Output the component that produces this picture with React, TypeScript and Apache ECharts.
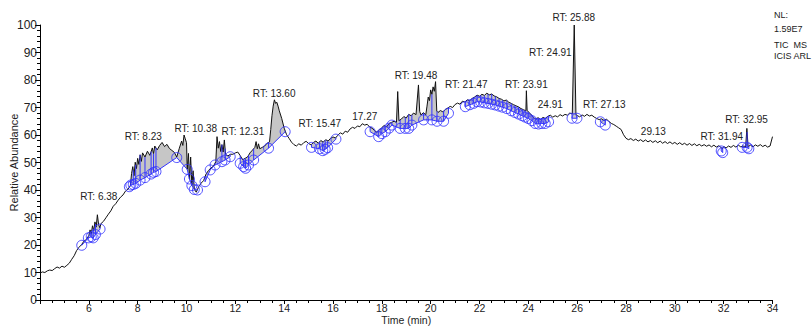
import React, { useEffect, useRef } from 'react';
import * as echarts from 'echarts';

const FONT = '"Liberation Sans", Arial, sans-serif';

// Total ion chromatogram: [time (min), relative abundance]
const TRACE: [number, number][] = [
  [4.0, 9.8], [4.1, 10.2], [4.2, 10.0], [4.3, 10.6], [4.4, 10.9], [4.5, 10.7], [4.6, 11.4], [4.7, 12.0], [4.8, 11.6], [4.9, 12.3],
  [5.0, 11.9], [5.1, 12.6], [5.2, 13.4], [5.3, 14.8], [5.4, 16.1], [5.5, 18.0], [5.6, 19.2], [5.7, 20.1], [5.8, 21.4], [5.9, 22.0],
  [6.0, 23.4], [6.05, 25.5], [6.1, 24.1], [6.15, 27.0], [6.2, 25.2], [6.25, 28.4], [6.3, 26.5], [6.35, 31.0], [6.4, 27.5], [6.45, 26.2],
  [6.5, 27.8], [6.6, 28.6], [6.7, 29.9], [6.8, 31.2], [6.9, 32.4], [7.0, 34.1], [7.1, 35.0], [7.2, 36.3], [7.3, 37.4], [7.4, 38.2],
  [7.5, 39.6], [7.6, 40.3], [7.7, 41.5], [7.75, 46.0], [7.8, 48.5], [7.85, 45.2], [7.9, 50.1], [7.95, 47.8], [8.0, 51.5], [8.05, 49.3],
  [8.1, 52.8], [8.15, 50.4], [8.2, 53.5], [8.3, 52.0], [8.4, 54.1], [8.5, 52.6], [8.6, 55.3], [8.65, 53.2], [8.7, 56.0], [8.8, 54.6],
  [8.9, 56.2], [9.0, 57.3], [9.1, 55.8], [9.2, 56.6], [9.3, 55.1], [9.4, 54.4], [9.5, 53.7], [9.6, 52.0], [9.7, 55.0], [9.8, 57.8],
  [9.85, 56.2], [9.9, 60.0], [9.95, 58.6], [10.0, 57.2], [10.03, 47.5], [10.08, 53.3], [10.12, 44.0], [10.17, 52.0], [10.22, 41.6], [10.27, 47.0],
  [10.32, 40.2], [10.4, 39.2], [10.5, 41.2], [10.6, 42.5], [10.7, 43.4], [10.8, 45.8], [10.9, 47.1], [11.0, 48.0], [11.1, 48.6], [11.2, 50.3],
  [11.25, 59.4], [11.3, 55.2], [11.35, 57.6], [11.4, 54.0], [11.45, 56.5], [11.5, 53.8], [11.55, 58.2], [11.6, 52.9], [11.7, 52.4], [11.8, 53.0],
  [11.9, 53.0], [12.0, 53.5], [12.1, 53.8], [12.2, 52.5], [12.3, 51.0], [12.4, 51.5], [12.5, 52.0], [12.6, 53.5], [12.7, 54.5], [12.8, 55.5],
  [12.85, 57.6], [12.9, 55.0], [12.95, 56.8], [13.0, 55.0], [13.1, 55.5], [13.2, 56.0], [13.3, 57.0], [13.4, 57.5], [13.45, 62.0], [13.5, 67.0],
  [13.55, 70.5], [13.6, 72.8], [13.65, 71.5], [13.7, 71.9], [13.75, 70.5], [13.8, 68.8], [13.9, 66.0], [14.0, 62.5], [14.1, 60.1], [14.2, 58.8],
  [14.3, 57.4], [14.4, 56.5], [14.5, 56.0], [14.6, 56.8], [14.7, 56.3], [14.8, 57.2], [14.9, 57.7], [15.0, 56.9], [15.1, 56.4], [15.2, 57.3],
  [15.3, 57.8], [15.4, 57.0], [15.5, 58.0], [15.6, 57.4], [15.7, 58.3], [15.8, 57.8], [15.9, 58.8], [16.0, 59.3], [16.1, 58.9], [16.2, 59.9],
  [16.3, 60.8], [16.4, 60.3], [16.5, 61.4], [16.6, 61.0], [16.7, 62.2], [16.8, 62.8], [16.9, 62.4], [17.0, 63.3], [17.1, 63.0], [17.2, 64.1],
  [17.3, 63.6], [17.4, 63.9], [17.5, 62.9], [17.6, 62.5], [17.7, 61.6], [17.8, 61.0], [17.9, 61.8], [18.0, 62.7], [18.1, 63.5], [18.2, 63.0],
  [18.3, 64.2], [18.4, 64.6], [18.5, 65.0], [18.6, 64.6], [18.65, 75.8], [18.7, 65.2], [18.8, 65.8], [18.9, 66.7], [19.0, 66.2], [19.1, 67.5],
  [19.2, 67.0], [19.3, 68.0], [19.4, 67.4], [19.5, 78.2], [19.55, 68.6], [19.6, 67.3], [19.7, 68.1], [19.8, 67.4], [19.85, 70.5], [19.9, 73.8],
  [19.95, 72.5], [20.0, 76.4], [20.05, 74.8], [20.1, 77.5], [20.15, 75.9], [20.2, 79.4], [20.25, 68.7], [20.3, 68.2], [20.4, 68.9], [20.5, 68.4],
  [20.6, 69.3], [20.7, 69.8], [20.8, 70.4], [20.9, 70.0], [21.0, 71.1], [21.1, 71.6], [21.2, 71.2], [21.3, 72.3], [21.4, 72.0], [21.5, 72.8],
  [21.6, 72.5], [21.7, 73.3], [21.8, 73.8], [21.9, 74.5], [22.0, 74.1], [22.1, 74.8], [22.2, 74.4], [22.3, 75.2], [22.4, 74.6], [22.5, 74.9],
  [22.6, 74.2], [22.7, 73.9], [22.8, 73.3], [22.9, 73.0], [23.0, 72.4], [23.1, 72.7], [23.2, 71.9], [23.3, 71.5], [23.4, 71.0], [23.5, 70.6],
  [23.6, 70.2], [23.7, 69.6], [23.8, 69.2], [23.9, 68.8], [23.92, 76.1], [23.95, 69.0], [24.0, 68.4], [24.1, 67.6], [24.2, 66.5], [24.3, 65.8],
  [24.4, 66.3], [24.5, 65.6], [24.6, 66.4], [24.7, 66.0], [24.8, 66.8], [24.9, 67.2], [25.0, 66.5], [25.1, 67.0], [25.2, 66.6], [25.3, 67.4],
  [25.4, 66.9], [25.5, 67.5], [25.6, 67.2], [25.7, 68.0], [25.8, 67.6], [25.88, 100.0], [25.95, 67.4], [26.0, 67.1], [26.1, 66.6], [26.2, 67.3],
  [26.3, 66.8], [26.4, 67.5], [26.5, 66.9], [26.6, 67.2], [26.7, 66.5], [26.8, 66.0], [26.9, 65.6], [27.0, 65.9], [27.1, 65.3], [27.2, 65.8],
  [27.3, 64.9], [27.4, 64.2], [27.5, 63.8], [27.6, 63.2], [27.7, 62.6], [27.8, 62.0], [27.9, 60.1], [28.0, 58.8], [28.1, 58.3], [28.2, 58.7],
  [28.3, 58.0], [28.4, 58.5], [28.5, 57.8], [28.6, 58.3], [28.7, 57.6], [28.8, 58.2], [28.9, 57.5], [29.0, 58.0], [29.1, 57.3], [29.2, 57.9],
  [29.3, 57.2], [29.4, 57.8], [29.5, 57.0], [29.6, 57.6], [29.7, 56.9], [29.8, 57.5], [29.9, 56.8], [30.0, 57.3], [30.1, 56.6], [30.2, 57.2],
  [30.3, 56.5], [30.4, 57.0], [30.5, 56.3], [30.6, 56.9], [30.7, 56.2], [30.8, 56.8], [30.9, 56.1], [31.0, 56.6], [31.1, 56.0], [31.2, 56.5],
  [31.3, 55.9], [31.4, 56.4], [31.5, 55.7], [31.6, 56.3], [31.7, 55.6], [31.8, 56.1], [31.9, 55.4], [31.95, 55.0], [32.0, 55.8], [32.1, 55.3],
  [32.2, 56.0], [32.3, 55.5], [32.4, 56.2], [32.5, 55.6], [32.6, 56.3], [32.7, 55.7], [32.8, 56.0], [32.9, 55.6], [32.95, 62.4], [33.0, 55.8],
  [33.1, 56.3], [33.2, 55.7], [33.3, 56.4], [33.4, 55.9], [33.5, 56.5], [33.6, 55.8], [33.7, 56.3], [33.8, 55.6], [33.9, 56.0], [34.0, 59.4],
];

// Peak boundary points (baseline) per integration group
const PEAK_GROUPS: [number, number][][] = [
  [[5.71, 19.9], [5.98, 22.6], [6.1, 23.0], [6.18, 22.6], [6.27, 23.8], [6.46, 25.8]],
  [[7.66, 41.2], [7.72, 41.8], [7.82, 42.0], [7.92, 42.4], [8.1, 43.6], [8.3, 44.5], [8.55, 45.8], [8.65, 46.4], [8.75, 46.7],
   [9.6, 51.8], [10.03, 47.5], [10.12, 44.0], [10.22, 41.6], [10.32, 40.2], [10.45, 40.0]],
  [[10.76, 43.0], [10.97, 47.3], [11.17, 49.1], [11.45, 50.3], [11.58, 50.9], [11.79, 52.1]],
  [[12.2, 49.7], [12.34, 48.5], [12.42, 47.9], [12.54, 49.1], [12.75, 50.9], [13.36, 55.2], [14.04, 61.2]],
  [[15.12, 55.5], [15.45, 55.0], [15.58, 54.3], [15.68, 54.8], [15.78, 55.4], [16.12, 58.5]],
  [[17.52, 61.2], [17.87, 59.4], [18.0, 60.5], [18.14, 61.2], [18.3, 62.5], [18.41, 63.6], [18.75, 62.4], [18.96, 62.4], [19.1, 62.4],
   [19.23, 63.6], [19.71, 65.5], [20.05, 65.5], [20.26, 65.0], [20.53, 65.0], [20.73, 67.9]],
  [[21.42, 70.3], [21.6, 71.0], [21.76, 71.5], [21.9, 72.1], [22.05, 72.0], [22.2, 71.7], [22.35, 71.5], [22.5, 71.2], [22.65, 70.9],
   [22.8, 70.5], [22.95, 70.1], [23.12, 69.6], [23.3, 68.8], [23.45, 68.2], [23.6, 67.6], [23.75, 67.0], [23.87, 66.5], [24.0, 66.0],
   [24.15, 65.2], [24.28, 64.2], [24.42, 64.0], [24.55, 64.2], [24.69, 64.2], [24.83, 64.8]],
  [[25.79, 66.1], [25.99, 66.1]],
  [[26.95, 64.8], [27.15, 63.6]],
  [[31.9, 54.2], [31.96, 53.6]],
  [[32.76, 55.5], [32.96, 55.5], [33.03, 55.0]],
];

// Peak annotations: [time, abundance] and text
const LABEL_POS: [number, number][] = [
  [6.41, 37.6], [8.23, 59.6], [10.38, 62.4], [12.31, 61.2], [13.59, 75.2], [15.46, 64.3], [17.3, 66.9],
  [19.4, 81.8], [21.46, 78.2], [23.92, 78.4], [24.9, 71.2], [24.9, 90.1], [25.86, 102.7], [27.11, 71.2],
  [29.12, 61.2], [31.92, 59.6], [32.94, 65.5],
];
const LABEL_TEXT: string[] = [
  'RT: 6.38', 'RT: 8.23', 'RT: 10.38', 'RT: 12.31', 'RT: 13.60', 'RT: 15.47', '17.27',
  'RT: 19.48', 'RT: 21.47', 'RT: 23.91', '24.91', 'RT: 24.91', 'RT: 25.88', 'RT: 27.13',
  '29.13', 'RT: 31.94', 'RT: 32.95',
];

const INFO_LINES = ['NL:', '1.59E7', 'TIC  MS', 'ICIS ARL'];

function traceAt(t: number): number {
  for (let i = 1; i < TRACE.length; i++) {
    const [t1, v1] = TRACE[i];
    const [t0, v0] = TRACE[i - 1];
    if (t <= t1) return v0 + ((t - t0) / (t1 - t0)) * (v1 - v0);
  }
  return TRACE[TRACE.length - 1][1];
}

const BLUE = '#3434ff';

export default function App() {
  const ref = useRef<HTMLDivElement>(null);
  useEffect(() => {
    const chart = echarts.init(ref.current!, null, { renderer: 'svg' });
    const groupData = PEAK_GROUPS.map((g) => [g[0][0], g[0][1]]);
    const option: any = {
      animation: false,
      backgroundColor: '#fff',
      grid: { left: 40, right: 39.5, top: 25, bottom: 34, containLabel: false, outerBoundsMode: 'none' },
      xAxis: {
        type: 'value',
        min: 4,
        max: 34,
        interval: 2,
        name: 'Time (min)',
        nameLocation: 'middle',
        nameGap: 14,
        nameMoveOverlap: false,
        nameTextStyle: { fontFamily: FONT, fontSize: 10.5, color: '#222' },
        axisLine: { show: true, onZero: false, lineStyle: { color: '#000', width: 1 } },
        axisTick: { show: true, length: 4, lineStyle: { color: '#000' } },
        minorTick: { show: true, splitNumber: 4, length: 3, lineStyle: { color: '#000' } },
        splitLine: { show: false },
        axisLabel: {
          margin: 2,
          fontFamily: FONT,
          fontSize: 10.5,
          color: '#222',
          formatter: (v: number) => (v === 4 ? '' : String(v)),
        },
      },
      yAxis: {
        type: 'value',
        min: 0,
        max: 100,
        interval: 10,
        name: 'Relative Abundance',
        nameLocation: 'middle',
        nameRotate: 90,
        nameGap: 21,
        nameMoveOverlap: false,
        nameTextStyle: { fontFamily: FONT, fontSize: 11, color: '#222' },
        axisLine: { show: true, lineStyle: { color: '#000', width: 1 } },
        axisTick: { show: true, length: 5, lineStyle: { color: '#000' } },
        minorTick: { show: true, splitNumber: 5, length: 3, lineStyle: { color: '#000' } },
        splitLine: { show: false },
        axisLabel: { margin: 3, fontFamily: FONT, fontSize: 12, color: '#222' },
      },
      series: [
        {
          type: 'custom',
          z: 1,
          silent: true,
          data: groupData,
          renderItem: (params: any, api: any) => {
            const g = PEAK_GROUPS[params.dataIndex];
            const t0 = g[0][0];
            const t1 = g[g.length - 1][0];
            const pts: number[][] = [api.coord([t0, traceAt(t0)])];
            for (const [t, v] of TRACE) if (t > t0 && t < t1) pts.push(api.coord([t, v]));
            pts.push(api.coord([t1, traceAt(t1)]));
            for (let i = g.length - 1; i >= 0; i--) pts.push(api.coord(g[i]));
            return { type: 'polygon', shape: { points: pts }, style: { fill: '#c6c6c6', stroke: null } };
          },
        },
        {
          type: 'line',
          z: 2,
          data: TRACE,
          showSymbol: false,
          symbol: 'none',
          silent: true,
          lineStyle: { color: '#111', width: 1 },
        },
        {
          type: 'custom',
          z: 3,
          silent: true,
          data: groupData,
          renderItem: (params: any, api: any) => {
            const g = PEAK_GROUPS[params.dataIndex];
            const base = g.map((p) => api.coord(p));
            const children: any[] = [
              { type: 'polyline', shape: { points: base }, style: { stroke: BLUE, lineWidth: 1, fill: null } },
            ];
            g.forEach((p, i) => {
              const top = api.coord([p[0], traceAt(p[0])]);
              children.push({
                type: 'line',
                shape: { x1: base[i][0], y1: base[i][1], x2: top[0], y2: top[1] },
                style: { stroke: BLUE, lineWidth: 1 },
              });
            });
            return { type: 'group', children };
          },
        },
        {
          type: 'scatter',
          z: 4,
          silent: true,
          data: PEAK_GROUPS.flat(),
          symbol: 'circle',
          symbolSize: 10,
          itemStyle: { color: 'rgba(0,0,0,0)', borderColor: BLUE, borderWidth: 1, opacity: 0.85 },
        },
        {
          type: 'custom',
          z: 5,
          silent: true,
          clip: false,
          data: LABEL_POS,
          renderItem: (params: any, api: any) => {
            const [x, y] = api.coord([api.value(0), api.value(1)]);
            return {
              type: 'text',
              x,
              y,
              style: {
                text: LABEL_TEXT[params.dataIndex],
                fill: '#222',
                fontFamily: FONT,
                fontSize: 10,
                align: 'center',
                verticalAlign: 'middle',
              },
            };
          },
        },
      ],
      graphic: INFO_LINES.map((s, i) => ({
        type: 'text',
        left: 774,
        top: [10, 24, 40, 51][i],
        style: { text: s, fill: '#222', fontFamily: FONT, fontSize: 9 },
      })),
    };
    chart.setOption(option);
    return () => chart.dispose();
  }, []);
  return <div ref={ref} style={{ position: 'fixed', left: 0, top: 0, width: 812, height: 334 }} />;
}
